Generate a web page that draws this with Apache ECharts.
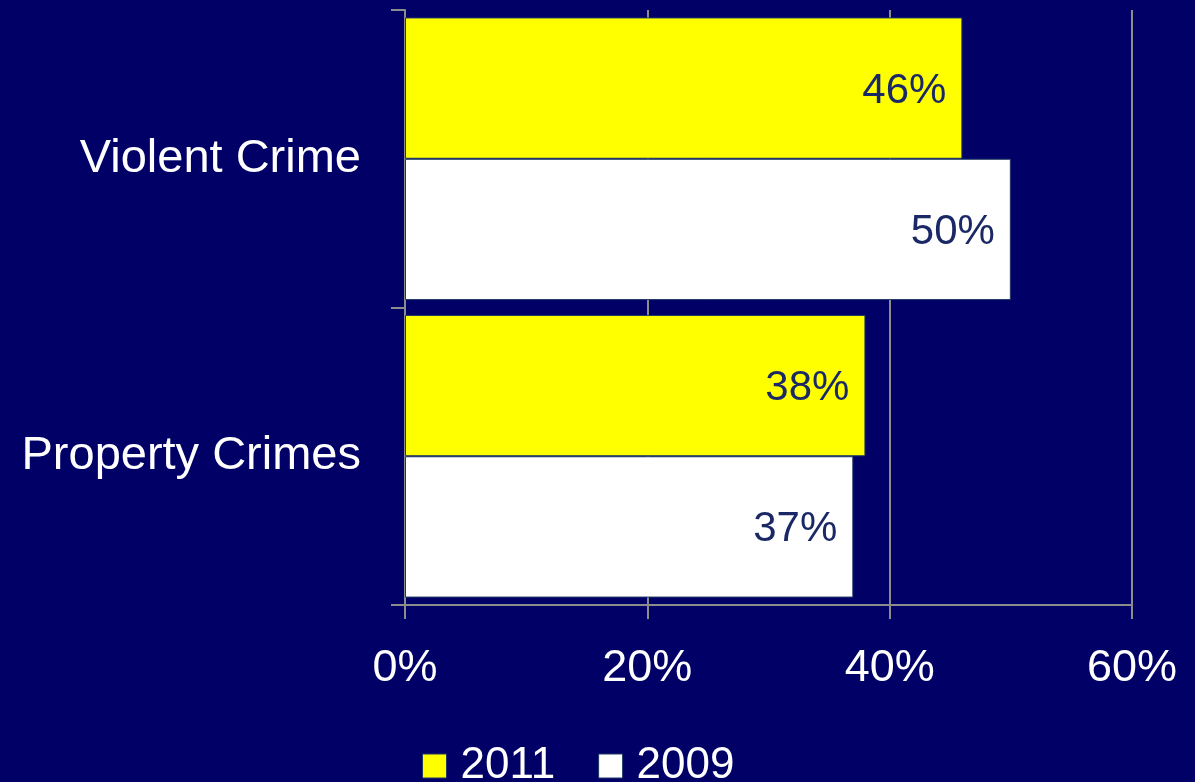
<!DOCTYPE html>
<html>
<head>
<meta charset="utf-8">
<script src="https://cdn.jsdelivr.net/npm/echarts@6/dist/echarts.min.js"></script>
<style>
  html, body { margin: 0; padding: 0; background: #000066; }
  #chart { width: 1195px; height: 782px; }
</style>
</head>
<body>
<div id="chart"></div>
<script>
// Categories listed bottom-to-top, as the category y axis draws them
const categories = ['Property Crimes', 'Violent Crime'];
const values2011 = [38, 46];
const values2009 = [37, 50];
const legendNames = ['2011', '2009'];
const xTicks = [0, 20, 40, 60];

const FONT = '"Liberation Sans", Arial, sans-serif';
const GRID_GREY = '#8c8c8c';
const LABEL_NAVY = '#1a2866';

const chart = echarts.init(document.getElementById('chart'));

const barLabel = {
  show: true,
  position: 'insideRight',
  distance: 16,
  offset: [0, 3],
  formatter: p => p.value + '%',
  color: LABEL_NAVY,
  fontFamily: FONT,
  fontSize: 42
};

chart.setOption({
  backgroundColor: '#000066',
  animation: false,
  grid: { left: 405, right: 63, top: 10, bottom: 177 },
  xAxis: {
    type: 'value',
    min: xTicks[0],
    max: xTicks[xTicks.length - 1],
    interval: 20,
    axisLine: { show: true, lineStyle: { color: GRID_GREY, width: 2 } },
    axisTick: { show: true, length: 14, lineStyle: { color: GRID_GREY, width: 2 } },
    splitLine: { show: true, lineStyle: { color: GRID_GREY, width: 2 } },
    axisLabel: {
      formatter: v => v + '%',
      color: '#ffffff',
      fontFamily: FONT,
      fontSize: 45,
      margin: 41
    }
  },
  yAxis: {
    type: 'category',
    data: categories,
    axisLine: { show: true, lineStyle: { color: GRID_GREY, width: 2 } },
    axisTick: { show: true, length: 14, lineStyle: { color: GRID_GREY, width: 2 } },
    splitLine: { show: false },
    axisLabel: {
      color: '#ffffff',
      fontFamily: FONT,
      fontSize: 47,
      margin: 44,
      padding: [6, 0, 0, 0]
    }
  },
  legend: {
    data: legendNames,
    left: 417,
    top: 739,
    itemWidth: 24,
    itemHeight: 24,
    itemGap: 43,
    icon: 'rect',
    itemStyle: { borderColor: '#1f3864', borderWidth: 1 },
    textStyle: {
      color: '#ffffff',
      fontFamily: FONT,
      fontSize: 44,
      lineHeight: 44,
      padding: [0, 0, 0, 9]
    }
  },
  // In a horizontal grouped bar the first series sits at the top of each band
  series: [
    {
      name: '2011',
      type: 'bar',
      data: values2011,
      barGap: '0%',
      barCategoryGap: '5%',
      itemStyle: { color: '#ffff00', borderColor: '#1f3864', borderWidth: 1 },
      label: barLabel
    },
    {
      name: '2009',
      type: 'bar',
      data: values2009,
      barGap: '0%',
      barCategoryGap: '5%',
      itemStyle: { color: '#ffffff', borderColor: '#1f3864', borderWidth: 1 },
      label: barLabel
    }
  ]
});
</script>
</body>
</html>
